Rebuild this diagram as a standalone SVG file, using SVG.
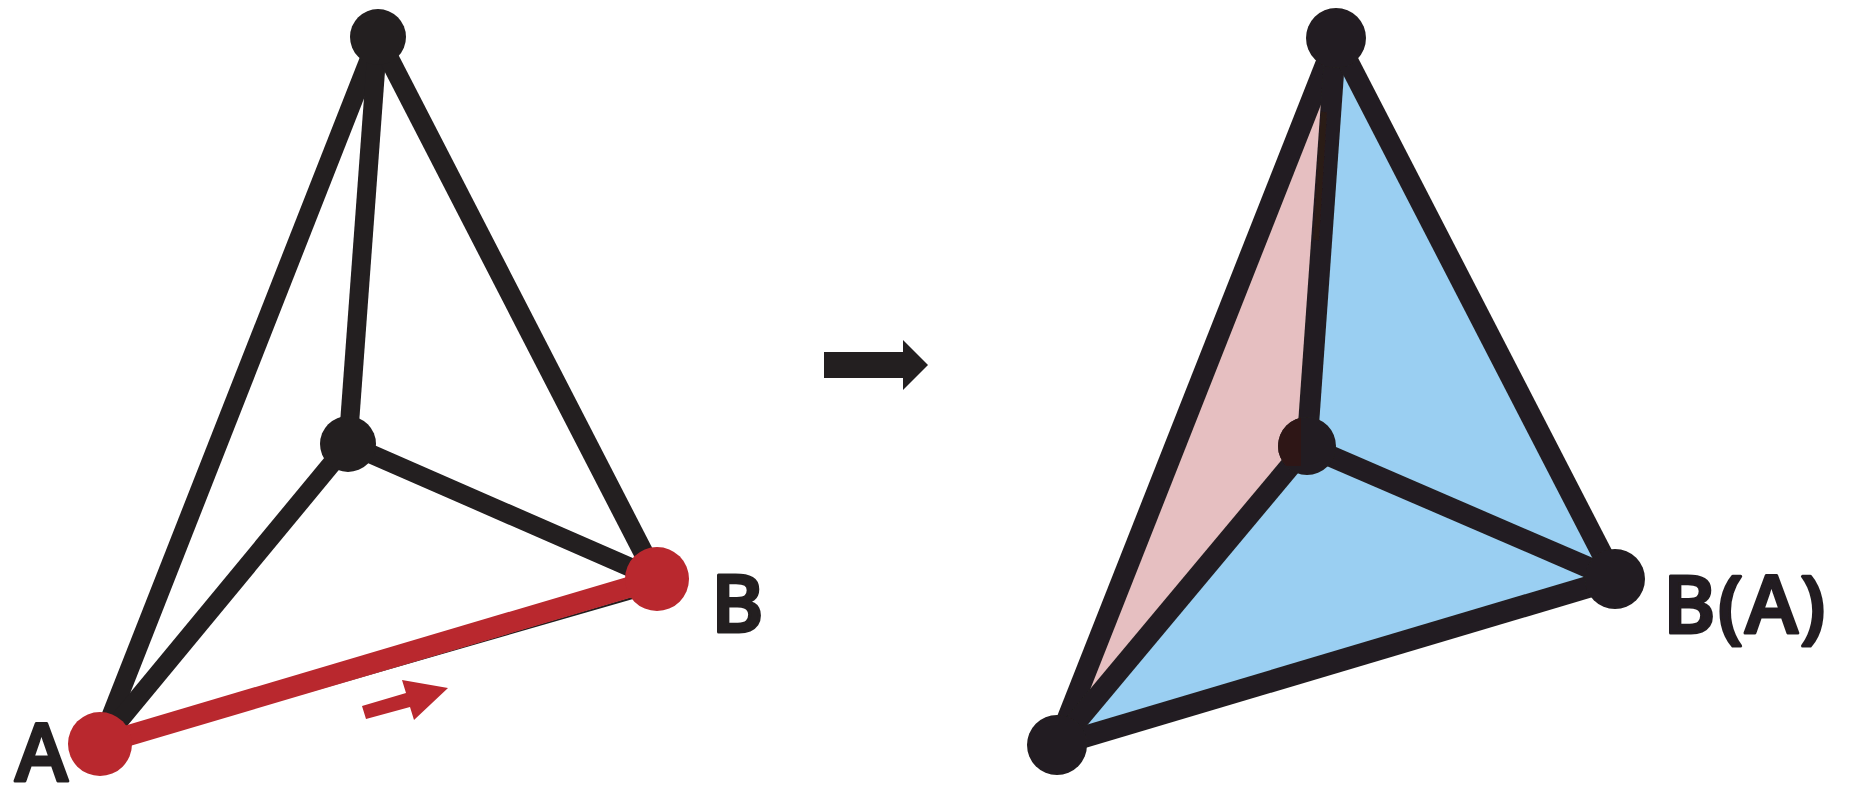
<svg xmlns="http://www.w3.org/2000/svg" width="1850" height="785" viewBox="0 0 1850 785">
<defs>
<style>
.e{stroke:#231f20;stroke-width:19;fill:none}
.f{stroke:#231f20;stroke-width:21;fill:none}
.k{fill:#231f20}
.r{fill:#b9282e}
.s{filter:url(#soft)}
.t{font-family:"Open Sans","Noto Sans",sans-serif;font-weight:600;font-size:80px;fill:#231f20;stroke:#231f20;stroke-width:3px;stroke-linejoin:round}
</style>
<filter id="soft" filterUnits="userSpaceOnUse" x="0" y="0" width="1850" height="785"><feGaussianBlur stdDeviation="0.7"/></filter>
<clipPath id="pc"><polygon points="1301,400 1301,466 1270,466 1270,400"/></clipPath>
</defs>
<rect width="1850" height="785" fill="#fff"/>
<g id="connectors">
<polygon id="face-pink" class="s" points="1336,38 1307,446 1057,745" fill="#e6bfc1"/>
<polygon id="face-blue" class="s" points="1336,38 1615,579 1057,745 1307,446" fill="#9acff2"/>
<line class="e" x1="378" y1="37" x2="100" y2="744"/>
<line class="e" x1="378" y1="37" x2="348" y2="444"/>
<line class="e" style="stroke-width:20" x1="378" y1="37" x2="657" y2="579"/>
<line class="e" x1="348" y1="444" x2="100" y2="744"/>
<line class="e" x1="348" y1="444" x2="657" y2="579"/>
<polygon class="k" points="300,695 640,594.5 640,597"/>
<line x1="100" y1="744" x2="657" y2="579" stroke="#b9282e" stroke-width="21"/>
<line class="f s" x1="1336" y1="38" x2="1057" y2="745"/>
<line class="f s" x1="1336" y1="38" x2="1307" y2="446"/>
<line class="f s" x1="1336" y1="38" x2="1615" y2="579"/>
<line class="f s" x1="1307" y1="446" x2="1057" y2="745"/>
<line class="f s" x1="1307" y1="446" x2="1615" y2="579"/>
<line class="f s" style="stroke-width:22" x1="1057" y1="745" x2="1615" y2="579"/>
<line class="s" x1="1324" y1="112" x2="1316" y2="240" stroke="#2c1a19" stroke-width="6"/>
</g>
<g id="node-top-left"><circle class="k" cx="378" cy="37" r="28"/></g>
<g id="node-center-left"><circle class="k" cx="348" cy="444" r="28"/></g>
<g id="node-a"><circle class="r" cx="100" cy="744" r="32"/><text class="t" x="15" y="781">A</text></g>
<g id="node-b"><circle class="r" cx="657" cy="579" r="32"/><text class="t" x="711" y="632">B</text></g>
<g id="arrow-red"><polygon class="r" points="362,706 366,719 410,707 414,720 448,688 402,680 406,693"/></g>
<g id="arrow-black"><polygon class="k" points="824,352 903,352 903,340 928,365 903,390 903,378 824,378"/></g>
<g id="node-top-right"><circle class="k s" cx="1336" cy="38" r="30"/></g>
<g id="node-center-right"><circle class="k s" cx="1307" cy="446" r="29"/><circle class="s" cx="1307" cy="446" r="29" fill="#2f1716" clip-path="url(#pc)"/></g>
<g id="node-a-right"><circle class="k s" cx="1057" cy="745" r="30"/></g>
<g id="node-b-right"><circle class="k s" cx="1615" cy="579" r="30"/><text class="t s" x="1663" y="633" letter-spacing="2">B(A)</text></g>
</svg>
